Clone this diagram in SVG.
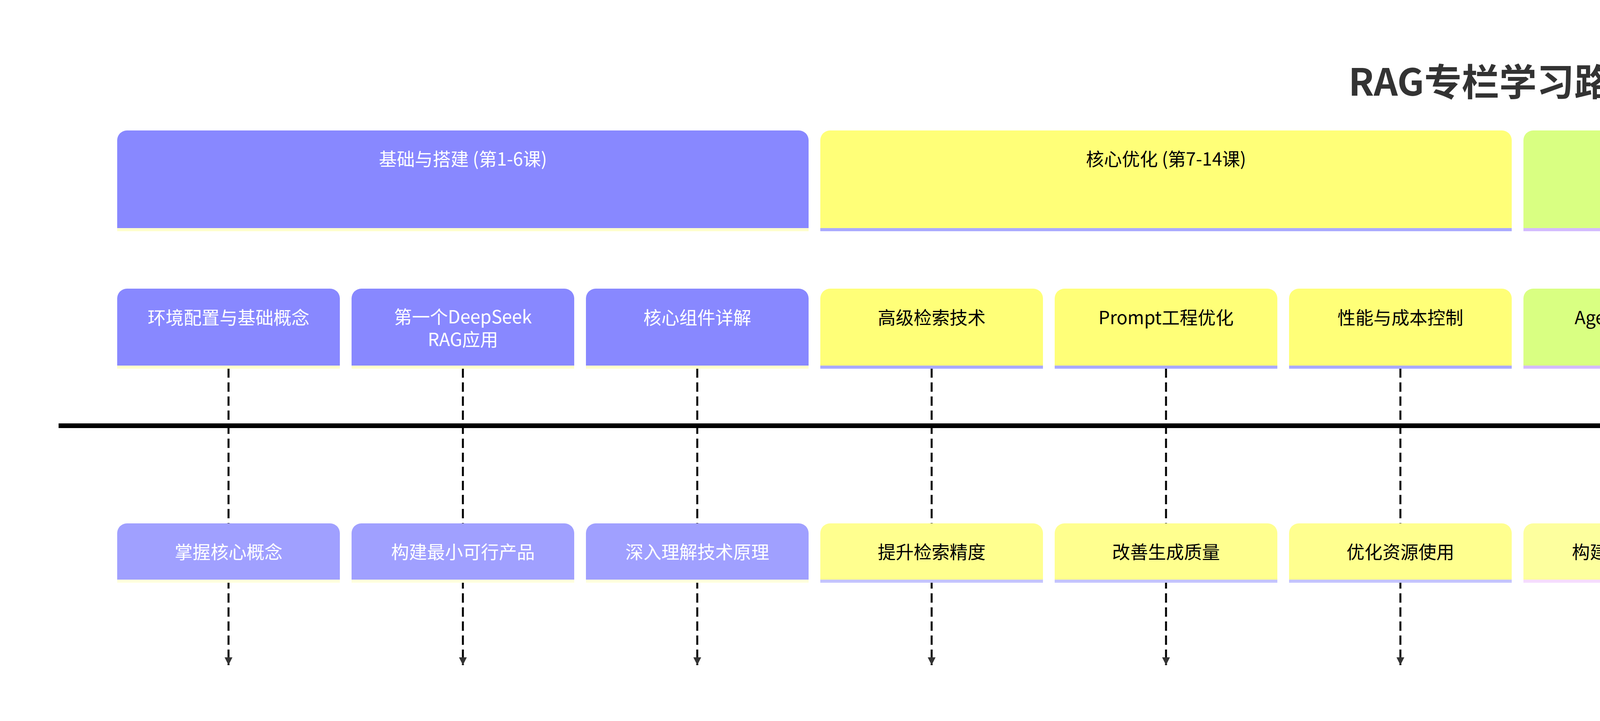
<svg xmlns="http://www.w3.org/2000/svg" width="7770" height="1846" viewBox="0 0 7770 1846">
<defs>
<style>
text{font-family:"Noto Sans CJK SC","Liberation Sans",sans-serif;font-size:46px;text-anchor:middle}
.w{fill:#ffffff}.k{fill:#000000}
.title{font-size:96px;font-weight:bold;fill:#333333}
.dash{stroke:#000;stroke-width:5;stroke-dasharray:24 12;fill:none}
</style>
<marker id="ah" viewBox="0 0 10 10" refX="10" refY="5" markerWidth="36" markerHeight="20" markerUnits="userSpaceOnUse" orient="auto"><path d="M0,0L10,5L0,10z" fill="#333"/></marker>
<marker id="big" viewBox="0 0 10 10" refX="10" refY="5" markerWidth="60" markerHeight="40" markerUnits="userSpaceOnUse" orient="auto"><path d="M0,0L10,5L0,10z" fill="#000"/></marker>
</defs>
<rect width="7770" height="1846" fill="#ffffff"/>
<text class="title" x="3885" y="245">RAG专栏学习路线图</text>
<g id="connectors">
<line class="dash" x1="585" y1="943" x2="585" y2="1703" marker-end="url(#ah)"/>
<line class="dash" x1="1185" y1="943" x2="1185" y2="1703" marker-end="url(#ah)"/>
<line class="dash" x1="1785" y1="943" x2="1785" y2="1703" marker-end="url(#ah)"/>
<line class="dash" x1="2385" y1="943" x2="2385" y2="1703" marker-end="url(#ah)"/>
<line class="dash" x1="2985" y1="943" x2="2985" y2="1703" marker-end="url(#ah)"/>
<line class="dash" x1="3585" y1="943" x2="3585" y2="1703" marker-end="url(#ah)"/>
<line class="dash" x1="4185" y1="943" x2="4185" y2="1703" marker-end="url(#ah)"/>
<line class="dash" x1="4785" y1="943" x2="4785" y2="1703" marker-end="url(#ah)"/>
<line class="dash" x1="5385" y1="943" x2="5385" y2="1703" marker-end="url(#ah)"/>
<line class="dash" x1="5985" y1="943" x2="5985" y2="1703" marker-end="url(#ah)"/>
<line class="dash" x1="6585" y1="943" x2="6585" y2="1703" marker-end="url(#ah)"/>
<line class="dash" x1="7185" y1="943" x2="7185" y2="1703" marker-end="url(#ah)"/>
<line x1="150" y1="1090" x2="7635" y2="1090" stroke="#000" stroke-width="12" marker-end="url(#big)"/>
</g>
<g id="sec1">
<path d="M300,584V359a25,25 0 0 1 25,-25H2045a25,25 0 0 1 25,25V584z" fill="#8888ff"/><rect x="300" y="584" width="1770" height="8" fill="#ffffcc"/>
<text class="w" x="1185" y="424">基础与搭建 (第1-6课)</text></g>
<g id="sec2">
<path d="M2100,584V359a25,25 0 0 1 25,-25H3845a25,25 0 0 1 25,25V584z" fill="#ffff78"/><rect x="2100" y="584" width="1770" height="8" fill="#aaaaff"/>
<text class="k" x="2985" y="424">核心优化 (第7-14课)</text></g>
<g id="sec3">
<path d="M3900,584V359a25,25 0 0 1 25,-25H5645a25,25 0 0 1 25,25V584z" fill="#d9ff82"/><rect x="3900" y="584" width="1770" height="8" fill="#d4bbff"/>
<text class="k" x="4785" y="424">高级应用 (第15-21课)</text></g>
<g id="sec4">
<path d="M5700,584V359a25,25 0 0 1 25,-25H7445a25,25 0 0 1 25,25V584z" fill="#c488ff"/><rect x="5700" y="584" width="1770" height="8" fill="#ddffbb"/>
<text class="w" x="6585" y="424">专题与部署 (第22-24课)</text></g>

<g id="t1"><path d="M300,936V764a25,25 0 0 1 25,-25H845a25,25 0 0 1 25,25V936z" fill="#8888ff"/><rect x="300" y="936" width="570" height="8" fill="#ffffcc"/><text class="w" x="585" y="830">环境配置与基础概念</text></g>
<g id="t2"><path d="M900,936V764a25,25 0 0 1 25,-25H1445a25,25 0 0 1 25,25V936z" fill="#8888ff"/><rect x="900" y="936" width="570" height="8" fill="#ffffcc"/><text class="w" x="1185" y="828">第一个DeepSeek</text><text class="w" x="1185" y="886">RAG应用</text></g>
<g id="t3"><path d="M1500,936V764a25,25 0 0 1 25,-25H2045a25,25 0 0 1 25,25V936z" fill="#8888ff"/><rect x="1500" y="936" width="570" height="8" fill="#ffffcc"/><text class="w" x="1785" y="830">核心组件详解</text></g>
<g id="t4"><path d="M2100,936V764a25,25 0 0 1 25,-25H2645a25,25 0 0 1 25,25V936z" fill="#ffff78"/><rect x="2100" y="936" width="570" height="8" fill="#aaaaff"/><text class="k" x="2385" y="830">高级检索技术</text></g>
<g id="t5"><path d="M2700,936V764a25,25 0 0 1 25,-25H3245a25,25 0 0 1 25,25V936z" fill="#ffff78"/><rect x="2700" y="936" width="570" height="8" fill="#aaaaff"/><text class="k" x="2985" y="830">Prompt工程优化</text></g>
<g id="t6"><path d="M3300,936V764a25,25 0 0 1 25,-25H3845a25,25 0 0 1 25,25V936z" fill="#ffff78"/><rect x="3300" y="936" width="570" height="8" fill="#aaaaff"/><text class="k" x="3585" y="830">性能与成本控制</text></g>
<g id="t7"><path d="M3900,936V764a25,25 0 0 1 25,-25H4445a25,25 0 0 1 25,25V936z" fill="#d9ff82"/><rect x="3900" y="936" width="570" height="8" fill="#d4bbff"/><text class="k" x="4185" y="830">Agent系统开发</text></g>
<g id="t8"><path d="M4500,936V764a25,25 0 0 1 25,-25H5045a25,25 0 0 1 25,25V936z" fill="#d9ff82"/><rect x="4500" y="936" width="570" height="8" fill="#d4bbff"/><text class="k" x="4785" y="830">多模态RAG应用</text></g>
<g id="t9"><path d="M5100,936V764a25,25 0 0 1 25,-25H5645a25,25 0 0 1 25,25V936z" fill="#d9ff82"/><rect x="5100" y="936" width="570" height="8" fill="#d4bbff"/><text class="k" x="5385" y="830">工程化与测试</text></g>
<g id="t10"><path d="M5700,936V764a25,25 0 0 1 25,-25H6245a25,25 0 0 1 25,25V936z" fill="#c488ff"/><rect x="5700" y="936" width="570" height="8" fill="#ddffbb"/><text class="w" x="5985" y="830">行业实战案例</text></g>
<g id="t11"><path d="M6300,936V764a25,25 0 0 1 25,-25H6845a25,25 0 0 1 25,25V936z" fill="#c488ff"/><rect x="6300" y="936" width="570" height="8" fill="#ddffbb"/><text class="w" x="6585" y="830">云原生部署</text></g>
<g id="t12"><path d="M6900,936V764a25,25 0 0 1 25,-25H7445a25,25 0 0 1 25,25V936z" fill="#c488ff"/><rect x="6900" y="936" width="570" height="8" fill="#ddffbb"/><text class="w" x="7185" y="830">性能监控与优化</text></g>

<g id="e1"><path d="M300,1484V1365a25,25 0 0 1 25,-25H845a25,25 0 0 1 25,25V1484z" fill="#a0a0ff"/><rect x="300" y="1484" width="570" height="8" fill="#ffffdd"/><text class="w" x="585" y="1430">掌握核心概念</text></g>
<g id="e2"><path d="M900,1484V1365a25,25 0 0 1 25,-25H1445a25,25 0 0 1 25,25V1484z" fill="#a0a0ff"/><rect x="900" y="1484" width="570" height="8" fill="#ffffdd"/><text class="w" x="1185" y="1430">构建最小可行产品</text></g>
<g id="e3"><path d="M1500,1484V1365a25,25 0 0 1 25,-25H2045a25,25 0 0 1 25,25V1484z" fill="#a0a0ff"/><rect x="1500" y="1484" width="570" height="8" fill="#ffffdd"/><text class="w" x="1785" y="1430">深入理解技术原理</text></g>
<g id="e4"><path d="M2100,1484V1365a25,25 0 0 1 25,-25H2645a25,25 0 0 1 25,25V1484z" fill="#ffff8f"/><rect x="2100" y="1484" width="570" height="8" fill="#c4c4ff"/><text class="k" x="2385" y="1430">提升检索精度</text></g>
<g id="e5"><path d="M2700,1484V1365a25,25 0 0 1 25,-25H3245a25,25 0 0 1 25,25V1484z" fill="#ffff8f"/><rect x="2700" y="1484" width="570" height="8" fill="#c4c4ff"/><text class="k" x="2985" y="1430">改善生成质量</text></g>
<g id="e6"><path d="M3300,1484V1365a25,25 0 0 1 25,-25H3845a25,25 0 0 1 25,25V1484z" fill="#ffff8f"/><rect x="3300" y="1484" width="570" height="8" fill="#c4c4ff"/><text class="k" x="3585" y="1430">优化资源使用</text></g>
<g id="e7"><path d="M3900,1484V1365a25,25 0 0 1 25,-25H4445a25,25 0 0 1 25,25V1484z" fill="#fdff9e"/><rect x="3900" y="1484" width="570" height="8" fill="#f5dcff"/><text class="k" x="4185" y="1430">构建智能体应用</text></g>
<g id="e8"><path d="M4500,1484V1365a25,25 0 0 1 25,-25H5045a25,25 0 0 1 25,25V1484z" fill="#fdff9e"/><rect x="4500" y="1484" width="570" height="8" fill="#f5dcff"/><text class="k" x="4785" y="1430">扩展应用场景</text></g>
<g id="e9"><path d="M5100,1484V1365a25,25 0 0 1 25,-25H5645a25,25 0 0 1 25,25V1484z" fill="#fdff9e"/><rect x="5100" y="1484" width="570" height="8" fill="#f5dcff"/><text class="k" x="5385" y="1430">确保代码质量</text></g>
<g id="e10"><path d="M5700,1484V1365a25,25 0 0 1 25,-25H6245a25,25 0 0 1 25,25V1484z" fill="#e9a3ff"/><rect x="5700" y="1484" width="570" height="8" fill="#fbfce0"/><text class="w" x="5985" y="1430">综合应用技能</text></g>
<g id="e11"><path d="M6300,1484V1365a25,25 0 0 1 25,-25H6845a25,25 0 0 1 25,25V1484z" fill="#e9a3ff"/><rect x="6300" y="1484" width="570" height="8" fill="#fbfce0"/><text class="w" x="6585" y="1430">掌握部署技巧</text></g>
<g id="e12"><path d="M6900,1484V1365a25,25 0 0 1 25,-25H7445a25,25 0 0 1 25,25V1484z" fill="#e9a3ff"/><rect x="6900" y="1484" width="570" height="8" fill="#fbfce0"/><text class="w" x="7185" y="1430">提升系统性能</text></g>
</svg>
